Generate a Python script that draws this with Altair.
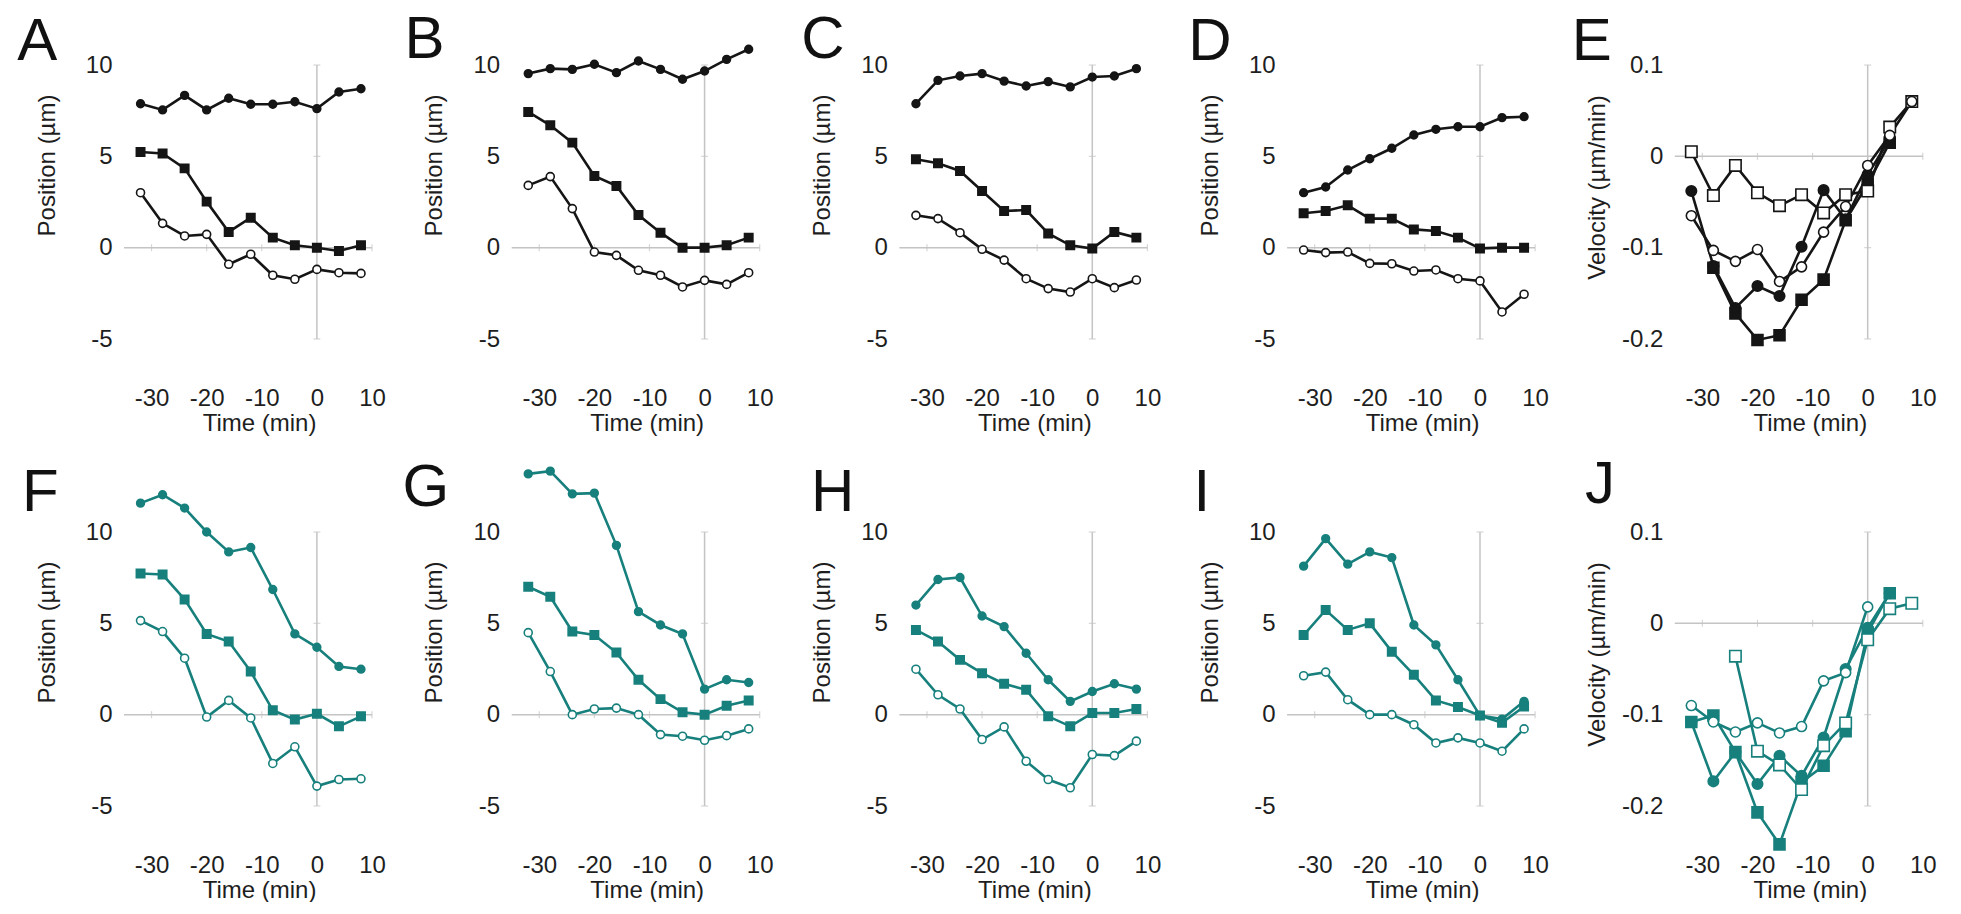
import altair as alt
import pandas as pd

FONT = "Liberation Sans"
BLACK = "#151515"
TEAL = "#17807d"
AXIS_GRAY = "#c4c4c4"
TEXT = "#1e1e1e"

TIMES = [-32, -28, -24, -20, -16, -12, -8, -4, 0, 4, 8]
X_TICK_LABELS = [-30, -20, -10, 0, 10]
POS_TICK_LABELS = [-5, 0, 5, 10]
VEL_TICK_LABELS = [-0.2, -0.1, 0, 0.1]
X_MINOR = [-30, -20, -10, 10]
POS_MINOR = [-5, 5, 10]
VEL_MINOR = [-0.2, -0.1, 0.1]

# ---- position panels (top: filled circles, mid: filled squares, bot: open circles)
A_top = [7.88, 7.54, 8.34, 7.54, 8.18, 7.85, 7.85, 7.99, 7.61, 8.52, 8.70]
A_mid = [5.24, 5.16, 4.34, 2.52, 0.86, 1.64, 0.55, 0.13, 0.0, -0.18, 0.13]
A_bot = [3.01, 1.33, 0.64, 0.73, -0.91, -0.36, -1.51, -1.73, -1.19, -1.37, -1.41]

B_top = [9.53, 9.80, 9.76, 10.04, 9.58, 10.22, 9.76, 9.22, 9.67, 10.31, 10.86]
B_mid = [7.43, 6.70, 5.75, 3.92, 3.38, 1.79, 0.82, 0.0, 0.0, 0.13, 0.55]
B_bot = [3.41, 3.89, 2.14, -0.24, -0.42, -1.24, -1.51, -2.15, -1.79, -2.01, -1.37]

C_top = [7.88, 9.16, 9.40, 9.53, 9.12, 8.85, 9.09, 8.80, 9.34, 9.40, 9.80]
C_mid = [4.84, 4.62, 4.20, 3.10, 2.01, 2.06, 0.78, 0.13, -0.05, 0.86, 0.55]
C_bot = [1.77, 1.59, 0.82, -0.09, -0.68, -1.70, -2.24, -2.43, -1.70, -2.19, -1.77]

D_top = [3.01, 3.32, 4.25, 4.87, 5.44, 6.17, 6.48, 6.62, 6.62, 7.12, 7.17]
D_mid = [1.88, 2.01, 2.32, 1.59, 1.59, 1.00, 0.91, 0.55, -0.04, 0.0, 0.0]
D_bot = [-0.13, -0.27, -0.24, -0.86, -0.88, -1.28, -1.22, -1.70, -1.82, -3.52, -2.55]

F_top = [11.58, 12.04, 11.31, 10.0, 8.91, 9.15, 6.85, 4.42, 3.69, 2.64, 2.49]
F_mid = [7.73, 7.67, 6.31, 4.42, 4.00, 2.36, 0.24, -0.27, 0.05, -0.64, -0.09]
F_bot = [5.15, 4.55, 3.09, -0.13, 0.78, -0.18, -2.67, -1.76, -3.91, -3.55, -3.51]

G_top = [13.18, 13.33, 12.09, 12.13, 9.27, 5.64, 4.91, 4.42, 1.40, 1.91, 1.76]
G_mid = [7.00, 6.45, 4.55, 4.36, 3.40, 1.91, 0.85, 0.13, 0.0, 0.49, 0.78]
G_bot = [4.49, 2.36, 0.0, 0.31, 0.36, 0.0, -1.09, -1.18, -1.40, -1.15, -0.78]

H_top = [6.0, 7.40, 7.51, 5.40, 4.82, 3.36, 1.91, 0.73, 1.27, 1.69, 1.40]
H_mid = [4.64, 4.00, 3.00, 2.27, 1.69, 1.36, -0.09, -0.64, 0.09, 0.09, 0.31]
H_bot = [2.49, 1.09, 0.31, -1.36, -0.67, -2.55, -3.55, -4.00, -2.18, -2.24, -1.45]

I_top = [8.13, 9.64, 8.24, 8.91, 8.60, 4.91, 3.82, 1.91, -0.05, -0.24, 0.73]
I_mid = [4.36, 5.73, 4.64, 5.00, 3.45, 2.18, 0.78, 0.42, -0.05, -0.45, 0.45]
I_bot = [2.13, 2.33, 0.82, 0.0, 0.0, -0.55, -1.55, -1.27, -1.55, -2.00, -0.78]

# ---- velocity panels
E_os_t = [-32, -28, -24, -20, -16, -12, -8, -4, 0, 4, 8]
E_os = [0.005, -0.043, -0.010, -0.040, -0.054, -0.042, -0.062, -0.042, -0.038, 0.032, 0.060]
E_oc_t = [-32, -28, -24, -20, -16, -12, -8, -4, 0, 4, 8]
E_oc = [-0.065, -0.103, -0.115, -0.102, -0.137, -0.121, -0.083, -0.055, -0.010, 0.023, 0.060]
E_fc_t = [-32, -28, -24, -20, -16, -12, -8, -4, 0, 4]
E_fc = [-0.038, -0.120, -0.166, -0.142, -0.153, -0.099, -0.037, -0.069, -0.020, 0.019]
E_fs_t = [-28, -24, -20, -16, -12, -8, -4, 0, 4]
E_fs = [-0.122, -0.172, -0.201, -0.196, -0.157, -0.135, -0.070, -0.030, 0.015]

J_os_t = [-24, -20, -16, -12, -8, -4, 0, 4, 8]
J_os = [-0.036, -0.140, -0.155, -0.182, -0.134, -0.109, -0.018, 0.016, 0.022]
J_oc_t = [-32, -28, -24, -20, -16, -12, -8, -4, 0]
J_oc = [-0.090, -0.108, -0.119, -0.109, -0.120, -0.113, -0.063, -0.054, 0.018]
J_fc_t = [-32, -28, -24, -20, -16, -12, -8, -4, 0, 4]
J_fc = [-0.108, -0.173, -0.141, -0.176, -0.145, -0.167, -0.125, -0.050, -0.005, 0.033]
J_fs_t = [-32, -28, -24, -20, -16, -12, -8, -4, 0, 4]
J_fs = [-0.108, -0.101, -0.141, -0.207, -0.242, -0.174, -0.156, -0.118, -0.010, 0.033]

LETTER_POS = {
    "A": (-106.8, -5), "B": (-107.2, -7), "C": (-98.2, -7), "D": (-98.9, -5), "E": (-103, -5),
    "F": (-102, -20.6), "G": (-109.1, -25.6), "H": (-88.4, -20.6), "I": (-93.5, -20.6), "J": (-89.9, -29),
}

STYLES = {
    "fc": dict(shape="circle", open=False),
    "fs": dict(shape="square", open=False),
    "oc": dict(shape="circle", open=True),
    "os": dict(shape="square", open=True),
}

W, H = 248, 274


def make_panel(letter, series, kind, color):
    rows = []
    for sid, style, ts, vs in series:
        for t, v in zip(ts, vs):
            rows.append(dict(t=t, v=v, sid=sid, style=style))
    df = pd.DataFrame(rows)
    if kind == "pos":
        ydom, yvals, ytitle, minor, title_y = [-5, 10], POS_TICK_LABELS, "Position (µm)", POS_MINOR, 100
        psize = {"fc": 60, "fs": 70, "oc": 64, "os": 80}
    else:
        ydom, yvals, ytitle, minor, title_y = [-0.2, 0.1], VEL_TICK_LABELS, "Velocity (µm/min)", VEL_MINOR, 122
        psize = {"fc": 110, "fs": 120, "oc": 100, "os": 130}
    xs = alt.Scale(domain=[-35, 10], nice=False, zero=False)
    ys = alt.Scale(domain=ydom, nice=False, zero=False)
    xaxis = alt.Axis(values=X_TICK_LABELS, title="Time (min)", domain=False, ticks=False, tickSize=0,
                     grid=False, labelPadding=59, labelBaseline="middle", labelFlush=False,
                     labelOverlap=False, labelExpr="toString(datum.value)",
                     titleX=135, titleY=84, titleBaseline="middle")
    yaxis = alt.Axis(values=yvals, title=ytitle, domain=False, ticks=False, tickSize=0, grid=False,
                     labelPadding=12, labelFlush=False, labelOverlap=False,
                     labelExpr="toString(datum.value)",
                     titleX=-77, titleY=title_y, titleBaseline="middle")
    X = alt.X("t:Q", scale=xs, axis=xaxis)
    Y = alt.Y("v:Q", scale=ys, axis=yaxis)

    hrule = alt.Chart(pd.DataFrame({"t": [-35], "t2": [10], "v": [0]})).mark_rule(
        color=AXIS_GRAY, strokeWidth=1.5).encode(x=X, x2="t2:Q", y=Y)
    vrule = alt.Chart(pd.DataFrame({"t": [0], "v": [ydom[0]], "v2": [ydom[1]]})).mark_rule(
        color=AXIS_GRAY, strokeWidth=1.5).encode(x=X, y=Y, y2="v2:Q")
    xt = alt.Chart(pd.DataFrame({"t": X_MINOR, "v": [0] * len(X_MINOR)})).mark_tick(
        orient="vertical", size=7, thickness=1.2, color=AXIS_GRAY).encode(x=X, y=Y)
    yt = alt.Chart(pd.DataFrame({"t": [0] * len(minor), "v": minor})).mark_tick(
        orient="horizontal", size=7, thickness=1.2, color=AXIS_GRAY).encode(x=X, y=Y)
    lines = alt.Chart(df).mark_line(color=color, strokeWidth=2.6).encode(
        x=X, y=Y, detail="sid:N", order="t:Q")
    layers = [hrule, vrule, xt, yt, lines]
    for st in ["fs", "fc", "os", "oc"]:
        if st not in set(df["style"]):
            continue
        spec = STYLES[st]
        layers.append(
            alt.Chart(df).transform_filter(alt.datum.style == st).mark_point(
                shape=spec["shape"], filled=True, fill=("white" if spec["open"] else color),
                stroke=color, strokeWidth=1.6, size=psize[st], opacity=1).encode(x=X, y=Y)
        )
    dx, dy = LETTER_POS[letter]
    lab = alt.Chart(pd.DataFrame({"label": [letter]})).mark_text(
        align="left", baseline="alphabetic", fontSize=60, font=FONT, color="#111111").encode(
        x=alt.value(dx), y=alt.value(dy), text="label:N")
    layers.append(lab)
    return alt.layer(*layers).properties(width=W, height=H)


def pos_series(top, mid, bot):
    return [("top", "fc", TIMES, top), ("mid", "fs", TIMES, mid), ("bot", "oc", TIMES, bot)]


panels = [
    make_panel("A", pos_series(A_top, A_mid, A_bot), "pos", BLACK),
    make_panel("B", pos_series(B_top, B_mid, B_bot), "pos", BLACK),
    make_panel("C", pos_series(C_top, C_mid, C_bot), "pos", BLACK),
    make_panel("D", pos_series(D_top, D_mid, D_bot), "pos", BLACK),
    make_panel("E", [("os", "os", E_os_t, E_os), ("oc", "oc", E_oc_t, E_oc),
                     ("fc", "fc", E_fc_t, E_fc), ("fs", "fs", E_fs_t, E_fs)], "vel", BLACK),
    make_panel("F", pos_series(F_top, F_mid, F_bot), "pos", TEAL),
    make_panel("G", pos_series(G_top, G_mid, G_bot), "pos", TEAL),
    make_panel("H", pos_series(H_top, H_mid, H_bot), "pos", TEAL),
    make_panel("I", pos_series(I_top, I_mid, I_bot), "pos", TEAL),
    make_panel("J", [("os", "os", J_os_t, J_os), ("oc", "oc", J_oc_t, J_oc),
                     ("fc", "fc", J_fc_t, J_fc), ("fs", "fs", J_fs_t, J_fs)], "vel", TEAL),
]

chart = alt.concat(*panels, columns=5, spacing={"row": 193, "column": 139.7}, bounds="flush").properties(
    padding={"left": 9, "top": 2, "right": 0, "bottom": 0},
    background="white",
).configure_view(stroke=None).configure_axis(
    labelFont=FONT, labelFontSize=24, labelColor=TEXT,
    titleFont=FONT, titleFontSize=24, titleFontWeight="normal", titleColor=TEXT,
)

chart.save("out.html", embed_options={"renderer": "svg", "actions": False})
